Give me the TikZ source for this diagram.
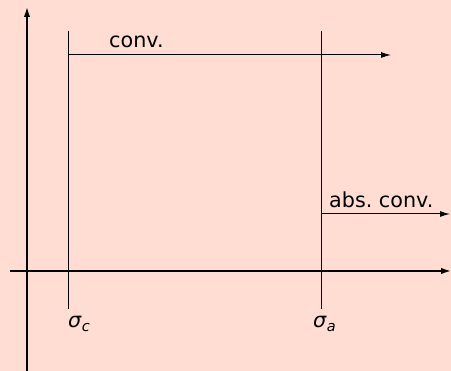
\documentclass[tikz,border=0pt]{standalone}
\usepackage{fontspec}
\setmainfont{DejaVu Sans}
\usepackage{xcolor}
\definecolor{bgpink}{RGB}{255,221,210}
\usetikzlibrary{arrows.meta, positioning}

\begin{document}
\begin{tikzpicture}[x=1pt, y=-1pt,
    axis/.style={line width=1.6pt, -{Latex[length=10pt, width=6.5pt]}},
    bound/.style={line width=1pt},
    region/.style={line width=1pt, -{Latex[length=10pt, width=6pt]}},
    lbl/.style={font=\fontsize{20.7}{24}\selectfont, inner sep=0pt}]
  % background and frame
  \fill[bgpink] (0,0) rectangle (451,371);
  \useasboundingbox (0,0) rectangle (451,371);

  % axes
  \coordinate (xl) at (10,271);
  \coordinate (xr) at (451,271);
  \coordinate (yb) at (27,371);
  \coordinate (yt) at (27,7);
  \draw[axis] (xl) -- (xr);
  \draw[axis] (yb) -- (yt);

  % abscissae
  \coordinate (ctop) at (68,31);
  \coordinate (cbot) at (68,309);
  \coordinate (atop) at (321,31);
  \coordinate (abot) at (321,309);
  \draw[bound] (ctop) -- (cbot);
  \draw[bound] (atop) -- (abot);

  % half planes
  \coordinate (convs) at (68,55);
  \coordinate (conve) at (391,55);
  \coordinate (abss) at (321,214);
  \coordinate (abse) at (450,214);
  \draw[region] (convs) -- (conve);
  \draw[region] (abss) -- (abse);

  % labels
  \node[lbl, anchor=base west] (conv) at (109,48) {conv.};
  \node[lbl, anchor=base west] (absconv) at (329,208) {abs.\ conv.};
  \node[lbl, anchor=base west] (sigc) at (68,328) {\textit{σ}\textsubscript{\textit{c}}};
  \node[lbl, anchor=base west] (siga) at (313,328) {\textit{σ}\textsubscript{\textit{a}}};
\end{tikzpicture}
\end{document}
